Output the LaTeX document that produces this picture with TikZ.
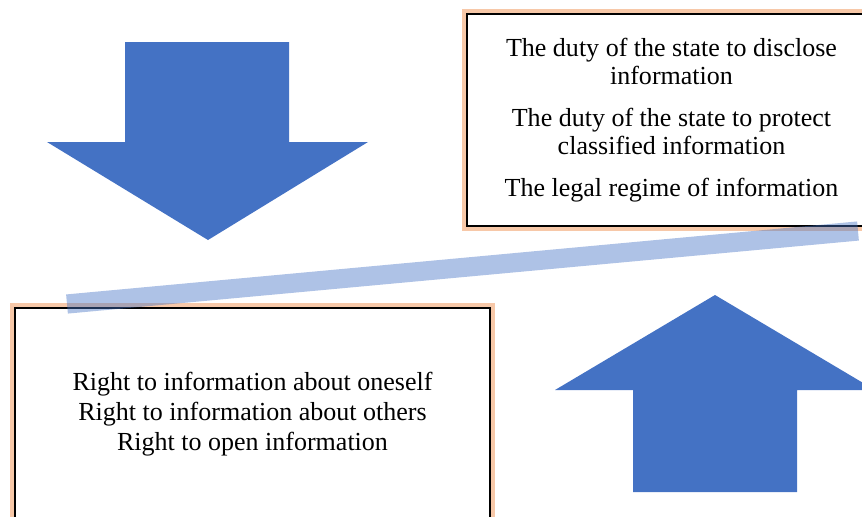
\documentclass[tikz,border=0pt]{standalone}
\usepackage{fontspec}
\setmainfont{Liberation Serif}
\usetikzlibrary{positioning}

\definecolor{arrowblue}{HTML}{4472C4}
\definecolor{glow}{HTML}{F4B183}

\tikzset{
	infobox/.style={draw=black, line width=1.2pt, fill=white, align=center,
		font=\fontsize{18.5}{20}\selectfont,
		preaction={draw=glow, line width=7pt, opacity=0.7}},
	bigarrow/.style={fill=arrowblue, draw=none},
	linkbar/.style={draw=arrowblue, opacity=0.43, line width=0.48cm}
}

\begin{document}
\begin{tikzpicture}[x=0.025cm, y=-0.025cm]
	\useasboundingbox (0,0) rectangle (862,516);
	\clip (0,0) rectangle (862,516);
	\fill[bigarrow] (125,42) -- (289,42) -- (289,142) -- (368,142) -- (208,240) -- (47,142) -- (125,142) -- cycle;
	\fill[bigarrow] (633,492) -- (797,492) -- (797,390) -- (875,390) -- (715,295) -- (555,390) -- (633,390) -- cycle;
	\node[infobox, minimum width=10.225cm, minimum height=5.3cm] (duties) at (671.5,120)
	  {The duty of the state to disclose\\ information\\[10pt]
	   The duty of the state to protect\\ classified information\\[10pt]
	   The legal regime of information};
	\node[infobox, minimum width=11.875cm, minimum height=5.3cm, font=\fontsize{18.5}{21.5}\selectfont] (rights) at (252.5,414)
	  {Right to information about oneself\\ Right to information about others\\ Right to open information};
	\coordinate (barL) at (67,304);
	\coordinate (barR) at (858,231);
	\draw[linkbar] (barL) -- (barR);
\end{tikzpicture}
\end{document}
